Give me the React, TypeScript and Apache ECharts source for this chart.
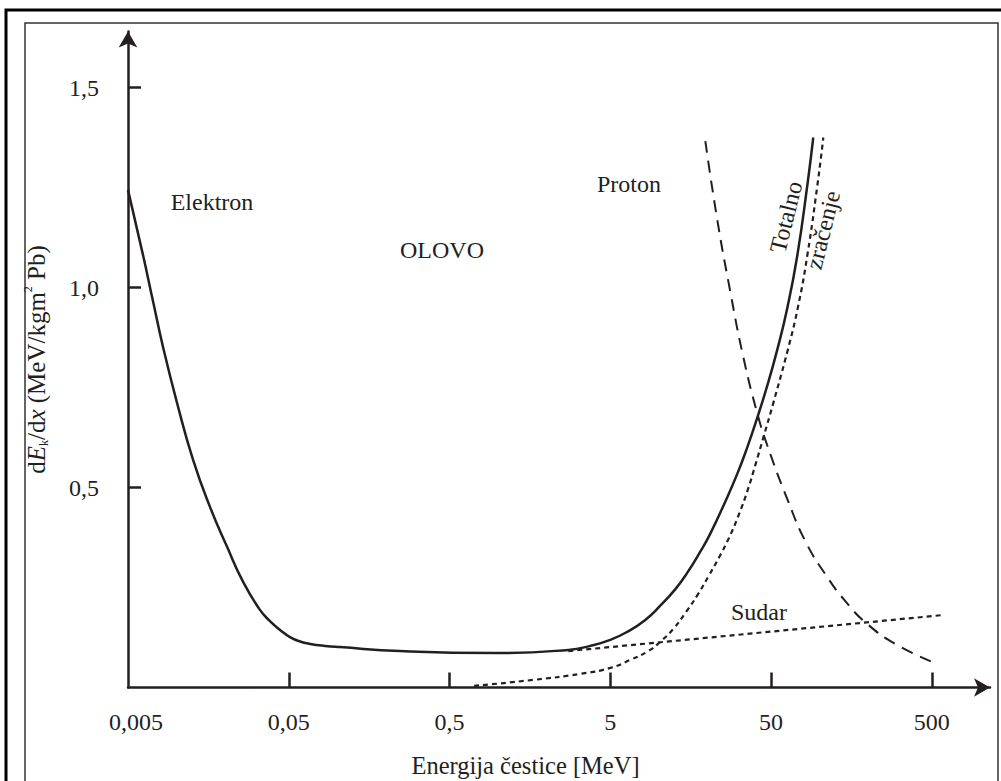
import React, { useEffect, useRef } from "react";
import * as echarts from "echarts";

// Tick values and labels
const xTickValues = [0.005, 0.05, 0.5, 5, 50, 500];
const xTickLabels = ["0,005", "0,05", "0,5", "5", "50", "500"];
const yTickValues = [0.5, 1.0, 1.5];
const yTickLabels = ["0,5", "1,0", "1,5"];

// Total energy loss of electron in lead (solid)
const totalCurve: [number, number][] = [
  [0.005, 1.244], [0.0062, 1.081], [0.00715, 0.966], [0.00826, 0.851], [0.0101, 0.711],
  [0.0127, 0.569], [0.0162, 0.451], [0.0207, 0.351], [0.026, 0.264], [0.0331, 0.194],
  [0.0382, 0.166], [0.0441, 0.144], [0.0509, 0.126], [0.0588, 0.115], [0.0679, 0.109],
  [0.0841, 0.104], [0.104, 0.101], [0.246, 0.091], [0.961, 0.086], [2.74, 0.094],
  [3.75, 0.104], [5.0, 0.119], [6.37, 0.139], [8.25, 0.169], [10.2, 0.204],
  [12.7, 0.246], [15.0, 0.286], [18.1, 0.339], [20.9, 0.384], [25.9, 0.464],
  [30.8, 0.534], [35.6, 0.601], [41.0, 0.674], [47.3, 0.754], [54.6, 0.844],
  [63.1, 0.949], [72.8, 1.08], [84.0, 1.255], [91.5, 1.375],
];

// Radiation loss "zračenje" (dotted)
const radiationCurve: [number, number][] = [
  [0.711, 0.004], [1.66, 0.019], [3.25, 0.034], [5.0, 0.049], [6.65, 0.069],
  [8.61, 0.091], [10.2, 0.114], [12.3, 0.146], [14.8, 0.189], [17.6, 0.234],
  [20.6, 0.281], [23.8, 0.326], [27.5, 0.376], [31.3, 0.429], [35.6, 0.491],
  [39.9, 0.556], [44.7, 0.624], [51.6, 0.711], [63.5, 0.844], [73.3, 0.949],
  [84.0, 1.08], [97.0, 1.255], [105.7, 1.375],
];

// Collision loss "Sudar" (dotted)
const collisionCurve: [number, number][] = [
  [2.74, 0.091], [40, 0.136], [581, 0.181],
];

// Proton (dashed)
const protonCurve: [number, number][] = [
  [19.5, 1.366], [23.1, 1.171], [27.9, 0.989], [33.6, 0.826], [41.0, 0.686],
  [47.3, 0.606], [63.1, 0.471], [82.8, 0.361], [111.9, 0.276], [144.8, 0.216],
  [198, 0.159], [305, 0.106], [525, 0.061],
];

const FONT = '"Liberation Serif", "DejaVu Serif", serif';
const INK = "#231f20";

export default function App() {
  const ref = useRef<HTMLDivElement>(null);

  useEffect(() => {
    if (!ref.current) return;
    const chart = echarts.init(ref.current, null, { renderer: "svg" });

    const lineSeries = (data: [number, number][], type: any, width: number, smooth: number | boolean) => ({
      type: "line",
      data,
      smooth,
      showSymbol: false,
      symbol: "none",
      silent: true,
      lineStyle: { color: INK, width, type },
    });

    const xLabel = (v: number) => {
      const i = xTickValues.findIndex((t) => Math.abs(Math.log10(t) - Math.log10(v)) < 0.01);
      if (i < 0) return "";
      return i === 0 ? `{first|${xTickLabels[i]}}` : xTickLabels[i];
    };
    const yLabel = (v: number) => {
      const i = yTickValues.findIndex((t) => Math.abs(t - v) < 1e-6);
      return i < 0 ? "" : yTickLabels[i];
    };

    const textEl = (text: string, x: number, y: number, rotation = 0) => ({
      type: "text",
      x,
      y,
      rotation,
      silent: true,
      style: {
        text,
        font: `24px ${FONT}`,
        fill: INK,
        align: "center",
        verticalAlign: "middle",
      },
    });

    chart.setOption({
      animation: false,
      backgroundColor: "#ffffff",
      grid: { left: 128, right: 11, top: 31.5, bottom: 93.5, outerBoundsMode: "none" },
      xAxis: {
        type: "log",
        min: 0.005,
        max: 1150,
        name: "Energija čestice [MeV]",
        nameLocation: "middle",
        nameGap: 65,
        nameTextStyle: { fontFamily: FONT, fontSize: 24.5, color: INK, padding: [0, 67, 0, 0] },
        axisLine: {
          show: true,
          onZero: false,
          symbol: ["none", "arrow"],
          symbolSize: [14, 16],
          lineStyle: { color: INK, width: 2.5 },
        },
        axisTick: {
          show: true,
          inside: true,
          length: 15,
          customValues: xTickValues.slice(1),
          lineStyle: { color: INK, width: 2.5 },
        },
        axisLabel: {
          show: true,
          customValues: xTickValues,
          margin: 22,
          fontFamily: FONT,
          fontSize: 24,
          color: INK,
          formatter: xLabel,
          rich: {
            first: { fontFamily: FONT, fontSize: 24, color: INK, padding: [0, 0, 0, 16] },
          },
        },
        splitLine: { show: false },
        minorTick: { show: false },
        minorSplitLine: { show: false },
      },
      yAxis: {
        type: "value",
        min: 0,
        max: 1.64,
        name: "{t|d}{i|E}{s|k}{t|/d}{i|x}{t| (MeV/kgm}{p|2}{t| Pb)}",
        nameLocation: "middle",
        nameGap: 78,
        nameRotate: 90,
        nameTextStyle: {
          fontFamily: FONT,
          fontSize: 25,
          color: INK,
          rich: {
            t: { fontFamily: FONT, fontSize: 25, color: INK, lineHeight: 28 },
            i: { fontFamily: FONT, fontSize: 25, color: INK, fontStyle: "italic", lineHeight: 28 },
            s: { fontFamily: FONT, fontSize: 12, color: INK, verticalAlign: "bottom", lineHeight: 28, padding: [10, 0, 0, 0] },
            p: { fontFamily: FONT, fontSize: 12, color: INK, verticalAlign: "top", lineHeight: 28, padding: [0, 0, 10, 0] },
          },
        },
        axisLine: {
          show: true,
          symbol: ["none", "arrow"],
          symbolSize: [14, 16],
          lineStyle: { color: INK, width: 2.5 },
        },
        axisTick: {
          show: true,
          inside: true,
          length: 13,
          customValues: yTickValues,
          lineStyle: { color: INK, width: 2.5 },
        },
        axisLabel: {
          show: true,
          customValues: yTickValues,
          margin: 29,
          fontFamily: FONT,
          fontSize: 24,
          color: INK,
          formatter: yLabel,
        },
        splitLine: { show: false },
      },
      graphic: [
        {
          type: "rect",
          silent: true,
          z: -10,
          shape: { x: 6, y: 10, width: 1100, height: 900 },
          style: { fill: "none", stroke: "#000000", lineWidth: 3 },
        },
        {
          type: "rect",
          silent: true,
          z: -10,
          shape: { x: 25, y: 23, width: 973, height: 900 },
          style: { fill: "none", stroke: "#333333", lineWidth: 1.5 },
        },
        textEl("Elektron", 212, 202),
        textEl("OLOVO", 442, 250),
        textEl("Proton", 629, 184),
        textEl("Sudar", 759, 612),
        textEl("Totalno", 786, 217, (76 * Math.PI) / 180),
        textEl("zračenje", 823, 230, (76 * Math.PI) / 180),
      ],
      series: [
        lineSeries(totalCurve, "solid", 2.5, 0.5),
        lineSeries(radiationCurve, [5, 4], 2.2, 0.5),
        lineSeries(collisionCurve, [5, 4], 2.2, false),
        lineSeries(protonCurve, [12, 8], 2, 0.5),
      ],
    });

    return () => chart.dispose();
  }, []);

  return (
    <div
      ref={ref}
      style={{ position: "absolute", left: 0, top: 0, width: 1001, height: 781, background: "#fff" }}
    />
  );
}
